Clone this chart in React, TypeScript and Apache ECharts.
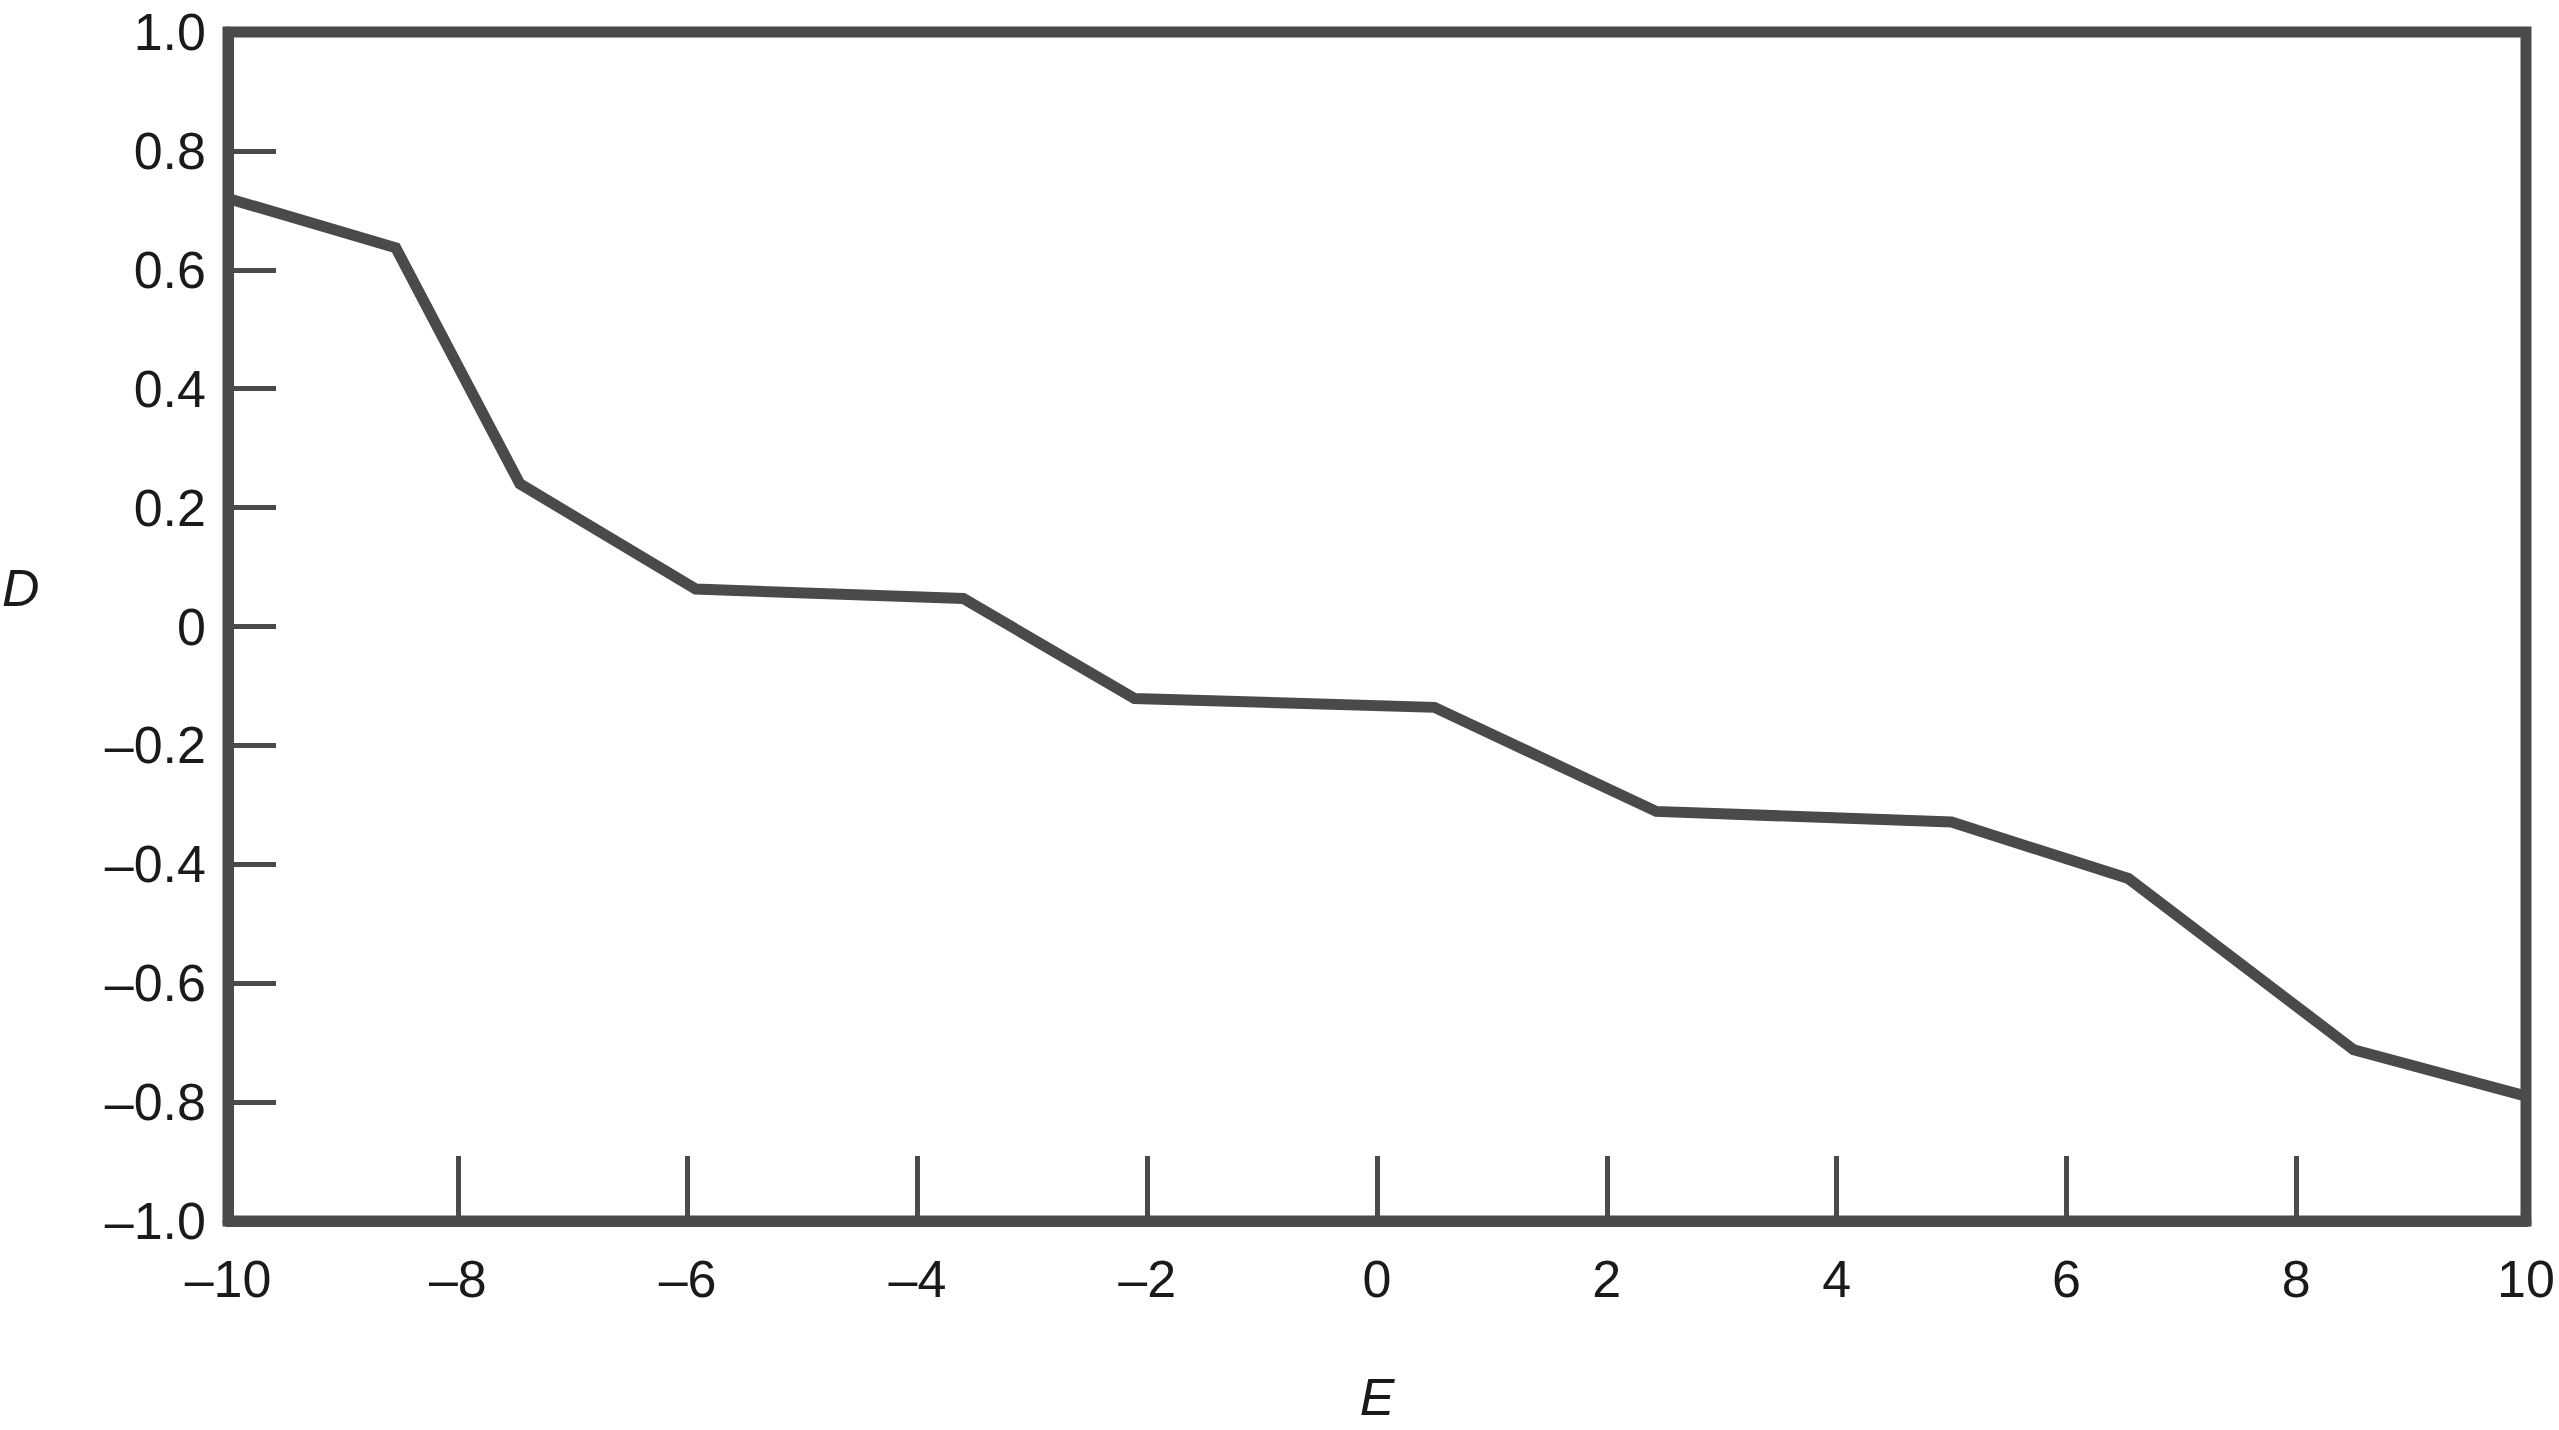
import React, { useEffect, useRef } from "react";
import * as echarts from "echarts";

const eValues = [-10, -8.54, -7.46, -5.93, -3.6, -2.11, 0.5, 2.43, 5.0, 6.54, 8.5, 10];
const dValues = [0.72, 0.637, 0.24, 0.063, 0.047, -0.121, -0.136, -0.311, -0.329, -0.424, -0.712, -0.79];
const xTickStep = 2;
const yTickStep = 0.2;
const xAxisTitle = "E";
const yAxisTitle = "D";

const INK = "#4a4a4c";
const TEXT = "#1a1a1a";
const FONT = "'Liberation Sans', Arial, Helvetica, sans-serif";

const dash = (s: string) => s.replace("-", "\u2013");

export default function App() {
  const ref = useRef<HTMLDivElement>(null);
  useEffect(() => {
    if (!ref.current) return;
    const chart = echarts.init(ref.current, null, { renderer: "svg" });
    const points = eValues.map((e, i) => [e, dValues[i]]);
    chart.setOption({
      animation: false,
      backgroundColor: "#ffffff",
      grid: {
        left: 228,
        right: 33,
        top: 32,
        bottom: 209,
        show: true,
        borderColor: INK,
        borderWidth: 11,
        containLabel: false,
      },
      graphic: [
        {
          type: "text",
          left: 2,
          top: 562,
          style: {
            text: yAxisTitle,
            fontSize: 52,
            fontStyle: "italic",
            fontFamily: FONT,
            fill: TEXT,
          },
        },
      ],
      xAxis: {
        type: "value",
        min: -10,
        max: 10,
        interval: xTickStep,
        name: xAxisTitle,
        nameLocation: "middle",
        nameGap: 150,
        nameTextStyle: {
          fontSize: 52,
          fontStyle: "italic",
          fontFamily: FONT,
          color: TEXT,
        },
        axisLine: { show: true, onZero: false, lineStyle: { color: INK, width: 11 } },
        axisTick: {
          show: true,
          inside: true,
          length: 65,
          lineStyle: { color: INK, width: 5 },
        },
        splitLine: { show: false },
        axisLabel: {
          fontSize: 52,
          fontFamily: FONT,
          color: TEXT,
          margin: 32,
          formatter: (v: number) => dash(String(v)),
        },
      },
      yAxis: {
        type: "value",
        min: -1,
        max: 1,
        interval: yTickStep,
        axisLine: { show: true, onZero: false, lineStyle: { color: INK, width: 11 } },
        axisTick: {
          show: true,
          inside: true,
          length: 48,
          lineStyle: { color: INK, width: 5 },
        },
        splitLine: { show: false },
        axisLabel: {
          fontSize: 52,
          fontFamily: FONT,
          color: TEXT,
          margin: 22,
          formatter: (v: number) => {
            if (Math.abs(v) < 1e-9) return "0";
            return dash(v.toFixed(1));
          },
        },
      },
      series: [
        {
          type: "line",
          data: points,
          showSymbol: false,
          symbol: "none",
          lineStyle: { color: INK, width: 11, join: "miter" },
          clip: false,
        },
      ],
    });
    return () => chart.dispose();
  }, []);
  return (
    <div
      ref={ref}
      style={{ position: "fixed", left: 0, top: 0, width: 2559, height: 1430 }}
    />
  );
}
